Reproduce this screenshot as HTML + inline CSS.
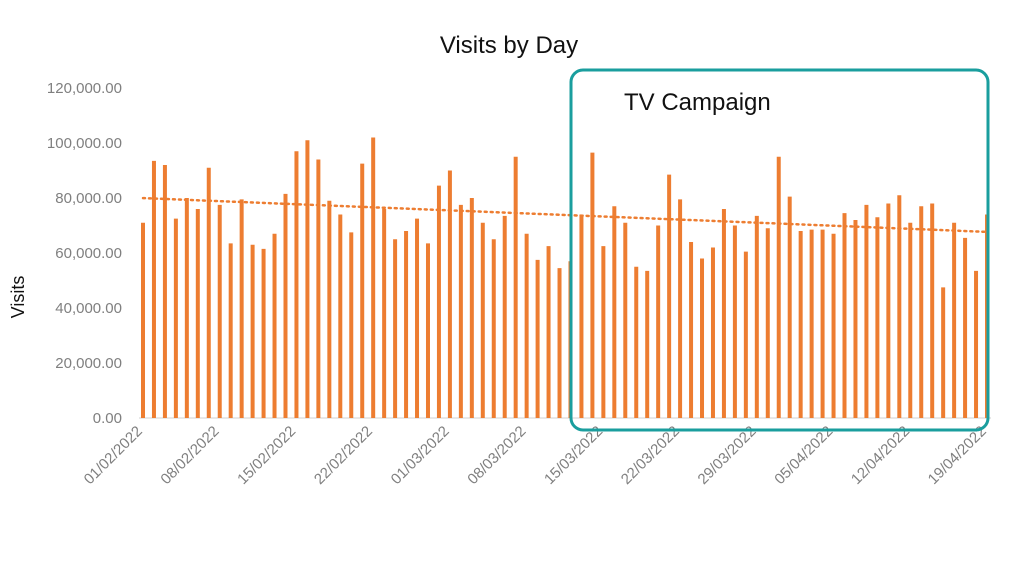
<!DOCTYPE html>
<html><head><meta charset="utf-8"><style>
body{margin:0;background:#fff;width:1024px;height:576px;overflow:hidden;font-family:"Liberation Sans",sans-serif}
</style></head><body>
<svg id="chart" width="1024" height="576">
<text x="509" y="53" text-anchor="middle" font-size="24" fill="#111">Visits by Day</text>
<text transform="translate(24,297) rotate(-90)" text-anchor="middle" font-size="18" fill="#111">Visits</text>
<g id="yaxis"></g><g id="xaxis"></g><g id="bars"></g><g id="trend"></g>
<rect x="571" y="70" width="417" height="360" rx="12" fill="none" stroke="#1a9e9e" stroke-width="3"/>
<text x="624" y="110" font-size="24" fill="#111">TV Campaign</text>
</svg>
<script>
const values=[71,93.5,92,72.5,80,76,91,77.5,63.5,79.5,63,61.5,67,81.5,97,101,94,79,74,67.5,92.5,102,76,65,68,72.5,63.5,84.5,90,77.5,80,71,65,73.5,95,67,57.5,62.5,54.5,
57,74,96.5,62.5,77,71,55,53.5,70,88.5,79.5,64,58,62,76,70,60.5,73.5,69,95,80.5,68,68.5,68.5,67,74.5,72,77.5,73,78,81,71,77,78,47.5,71,65.5,53.5,74].map(v=>v*1000);
const yTicks=[0,20000,40000,60000,80000,100000,120000];
const xLabels=["01/02/2022","08/02/2022","15/02/2022","22/02/2022","01/03/2022","08/03/2022","15/03/2022","22/03/2022","29/03/2022","05/04/2022","12/04/2022","19/04/2022"];
const NS="http://www.w3.org/2000/svg";
const x0=143,x1=987,yb=418,yt=88;
const X=i=>x0+i*(x1-x0)/(values.length-1);
const Y=v=>yb-(v/120000)*(yb-yt);
function mk(t,a,p){const e=document.createElementNS(NS,t);for(const k in a)e.setAttribute(k,a[k]);p.appendChild(e);return e;}
const ya=document.getElementById('yaxis');
yTicks.forEach(t=>{const e=mk('text',{x:122,y:Y(t)+5,'text-anchor':'end','font-size':15,fill:'#7f7f7f'},ya);


e.textContent=t.toLocaleString('en-US',{minimumFractionDigits:2});});
const xa=document.getElementById('xaxis');
const ax=mk('line',{x1:x0-4,x2:x1+4,y1:yb,y2:yb,stroke:'#d0d0d0','stroke-width':1},xa);


xLabels.forEach((l,k)=>{const x=X(k*7);const e=mk('text',{x:x,y:yb+14,'text-anchor':'end','font-size':15,fill:'#7f7f7f',transform:`rotate(-45 ${x} ${yb+14})`},xa);


e.textContent=l;});
const bg=document.getElementById('bars');
values.forEach((v,i)=>{const r=mk('rect',{x:X(i)-2,y:Y(v),width:4,height:yb-Y(v),fill:'#ed7d31'},bg);

});
const n=values.length;let sx=0,sy=0,sxx=0,sxy=0;values.forEach((v,i)=>{sx+=i;sy+=v;sxx+=i*i;sxy+=i*v;});
const b=(n*sxy-sx*sy)/(n*sxx-sx*sx),a=(sy-b*sx)/n;
const tl=mk('line',{x1:X(0),y1:Y(a),x2:X(n-1),y2:Y(a+b*(n-1)),stroke:'#ed7d31','stroke-width':2.5,'stroke-dasharray':'2 4','stroke-linecap':'round'},document.getElementById('trend'));


</script>
</body></html>
